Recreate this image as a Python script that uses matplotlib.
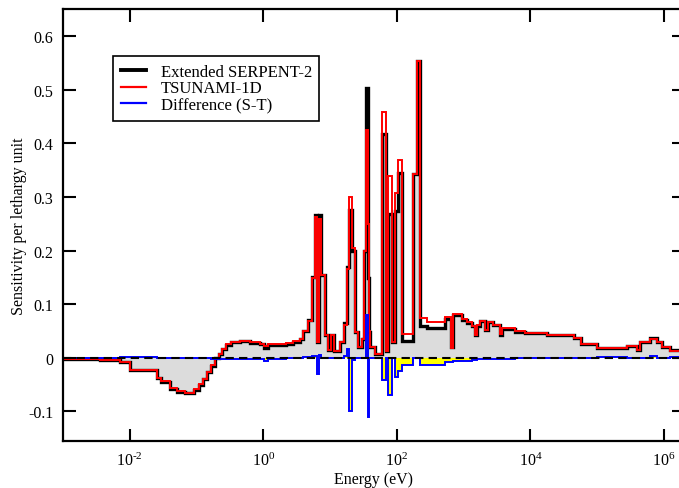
import numpy as np
import matplotlib
matplotlib.use("Agg")
import matplotlib.pyplot as plt

plt.rcParams['font.family'] = ['Liberation Serif', 'DejaVu Serif']
plt.rcParams['mathtext.fontset'] = 'custom'
plt.rcParams['mathtext.rm'] = 'Liberation Serif'
plt.rcParams['mathtext.it'] = 'Liberation Serif:italic'
plt.rcParams['axes.unicode_minus'] = False

# group boundaries (eV)
edges = np.array([
    1.0e-3, 3.63e-3, 7.2e-3, 1.0e-2, 2.59e-2, 2.97e-2, 4.05e-2, 5.16e-2, 6.8e-2, 9.27e-2,
    0.110, 0.126, 0.145, 0.167, 0.191, 0.219, 0.243, 0.279, 0.332, 0.453,
    0.639, 0.902, 1.035, 1.19, 2.21, 2.81, 3.58, 3.97, 4.72, 5.42,
    6.0, 6.43, 6.89, 7.38, 8.47, 9.4, 10.4, 11.6, 14.2, 16.3,
    18.1, 19.4, 21.5, 23.8, 26.4, 30.3, 32.5, 34.8, 37.3, 38.6,
    40.0, 47.5, 59.4, 68.2, 74.4, 83.9, 94.7, 105., 118., 176.,
    199., 220., 282., 531., 652., 699., 944., 1120., 1330., 1490.,
    1580., 1770., 2100., 2330., 2770., 3530., 3780., 5920., 8350., 1.4e4,
    1.78e4, 4.53e4, 5.76e4, 1.0e5, 2.81e5, 3.97e5, 4.4e5, 6.21e5, 7.91e5, 9.4e5,
    1.24e6, 2.0e6])

serpent = np.array([
    -0.002, -0.004, -0.008, -0.022, -0.038, -0.045, -0.058, -0.063, -0.066,
    -0.060, -0.050, -0.040, -0.027, -0.015, -0.001, 0.007, 0.016, 0.024, 0.029,
    0.031, 0.028, 0.025, 0.019, 0.024, 0.026, 0.030, 0.036, 0.050, 0.070,
    0.150, 0.266, 0.030, 0.266, 0.154, 0.043, 0.015, 0.042, 0.013, 0.030,
    0.065, 0.170, 0.276, 0.200, 0.049, 0.020, 0.036, 0.200, 0.503, 0.148,
    0.049, 0.020, 0.007, 0.418, 0.012, 0.268, 0.030, 0.273, 0.344, 0.032,
    0.342, 0.554, 0.060, 0.055, 0.072, 0.020, 0.079, 0.071, 0.065, 0.059,
    0.042, 0.060, 0.068, 0.051, 0.066, 0.061, 0.043, 0.054, 0.049, 0.047,
    0.046, 0.043, 0.037, 0.026, 0.018, 0.022, 0.014, 0.029, 0.037, 0.030,
    0.021, 0.014])

tsunami = np.array([
    -0.002, -0.004, -0.008, -0.023, -0.037, -0.044, -0.057, -0.062, -0.065,
    -0.059, -0.049, -0.039, -0.026, -0.014, 0.000, 0.008, 0.017, 0.025, 0.030,
    0.031, 0.029, 0.026, 0.022, 0.025, 0.027, 0.031, 0.036, 0.050, 0.069,
    0.148, 0.262, 0.030, 0.258, 0.154, 0.043, 0.015, 0.042, 0.013, 0.030,
    0.062, 0.165, 0.300, 0.204, 0.049, 0.020, 0.036, 0.200, 0.425, 0.250,
    0.050, 0.020, 0.008, 0.458, 0.012, 0.338, 0.030, 0.308, 0.369, 0.045,
    0.342, 0.554, 0.074, 0.067, 0.076, 0.019, 0.082, 0.073, 0.067, 0.060,
    0.043, 0.061, 0.069, 0.052, 0.067, 0.062, 0.044, 0.055, 0.050, 0.047,
    0.046, 0.043, 0.037, 0.026, 0.018, 0.022, 0.014, 0.029, 0.036, 0.030,
    0.021, 0.013])

diff = np.array([
    0.000, 0.000, 0.001, 0.001, -0.001, -0.001, -0.001, -0.001, -0.001,
    -0.001, -0.001, -0.001, -0.001, -0.002, -0.003, -0.002, -0.002, -0.002, -0.002,
    -0.002, -0.002, -0.002, -0.006, -0.002, -0.001, -0.001, 0.000, 0.001, 0.002,
    0.004, 0.004, -0.030, 0.006, 0.000, 0.000, 0.000, 0.000, 0.000, 0.000,
    0.003, 0.017, -0.100, -0.004, 0.000, 0.000, 0.000, 0.000, 0.080, -0.110,
    0.000, 0.000, -0.001, -0.042, 0.000, -0.070, 0.000, -0.035, -0.025, -0.014,
    0.000, -0.001, -0.014, -0.013, -0.008, -0.008, -0.006, -0.005, -0.005, -0.004,
    -0.004, -0.003, -0.003, -0.003, -0.003, -0.002, -0.002, -0.002, -0.001, -0.001,
    0.000, 0.000, 0.000, 0.000, 0.001, 0.000, 0.000, 0.000, 0.004, 0.000,
    0.000, 0.001])

xticks = [1e-2, 1e0, 1e2, 1e4, 1e6]
xlabels = [r'$10^{\text{-2}}$', r'$10^{0}$', r'$10^{2}$', r'$10^{4}$', r'$10^{6}$']
yticks = [-0.1, 0, 0.1, 0.2, 0.3, 0.4, 0.5, 0.6]
ylabels = ['-0.1', '0', '0.1', '0.2', '0.3', '0.4', '0.5', '0.6']

fig = plt.figure(figsize=(6.79, 4.89), dpi=100)
ax = fig.add_axes([0.0928, 0.0961, 0.9146, 0.8834])

ax.stairs(serpent, edges, baseline=0, fill=True, color='#dcdcdc', lw=0)
ax.stairs(diff, edges, baseline=0, fill=True, color='#ffff00', lw=0)
ax.stairs(serpent, edges, baseline=None, color='black', lw=2.4, label='Extended SERPENT-2')
ax.stairs(tsunami, edges, baseline=None, color='#ff0000', lw=1.4, label='TSUNAMI-1D')
ax.stairs(diff, edges, baseline=None, color='#0000ff', lw=1.4, label='Difference (S-T)')
ax.axhline(0, color='black', lw=1.5, dashes=(4, 2.5))

ax.set_xscale('log')
ax.set_xlim(1e-3, 2e6)
ax.set_ylim(-0.155, 0.65)
ax.set_xticks(xticks)
ax.set_xticklabels(xlabels)
ax.xaxis.set_minor_locator(matplotlib.ticker.NullLocator())
ax.set_yticks(yticks)
ax.set_yticklabels(ylabels)

ax.tick_params(which='major', direction='in', length=9, width=1.5, top=True, right=True,
               labelsize=11.5)
ax.tick_params(axis='x', pad=8)
ax.tick_params(axis='y', pad=7)
for s in ax.spines.values():
    s.set_linewidth(1.6)

ax.set_xlabel('Energy (eV)', fontsize=11.5, labelpad=1)
ax.set_ylabel('Sensitivity per lethargy unit', fontsize=11.5, labelpad=1)

leg = ax.legend(loc='upper left', bbox_to_anchor=(0.0805, 0.891), borderaxespad=0,
                fontsize=12, fancybox=False, framealpha=1, edgecolor='black',
                handlelength=1.5, handletextpad=0.9, labelspacing=0.05,
                borderpad=0.45)
leg.get_frame().set_linewidth(1.2)
for h, w in zip(leg.get_lines(), [2.8, 1.6, 1.6]):
    h.set_linewidth(w)

fig.savefig('out.png', dpi=100)
